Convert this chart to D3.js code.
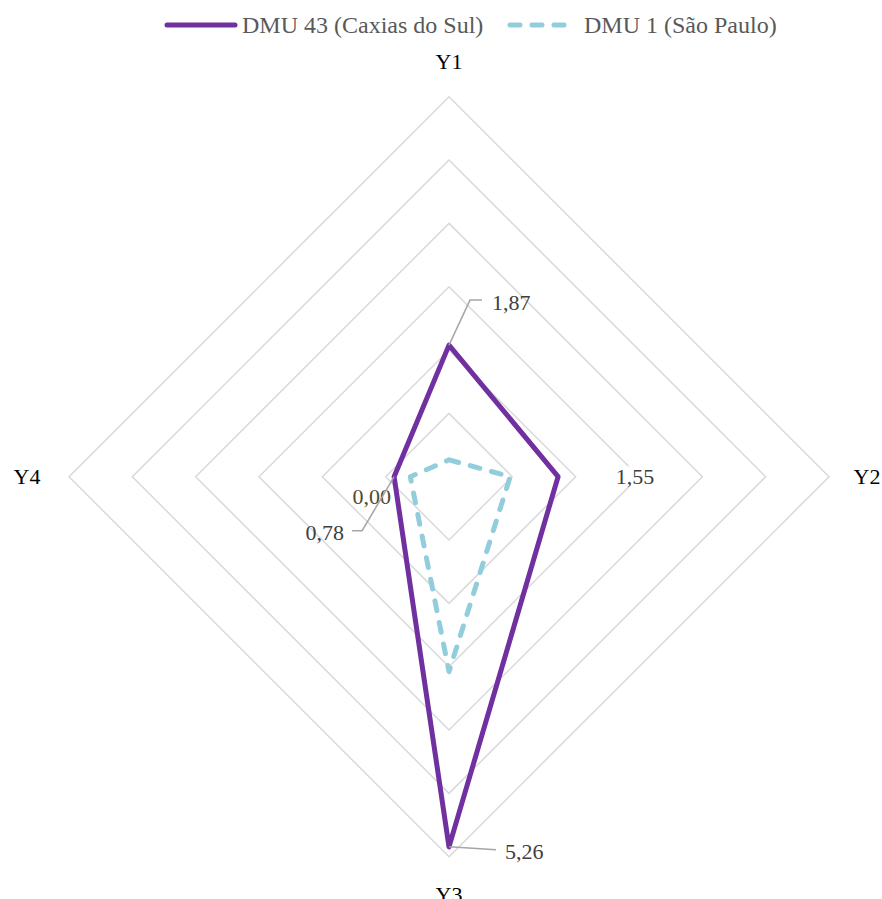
<!DOCTYPE html>
<html><head><meta charset="utf-8">
<script src="https://cdn.jsdelivr.net/npm/d3@7/dist/d3.min.js"></script>
<style>body{margin:0;background:#fff;} svg{display:block;}</style>
</head><body>
<svg id="chart" width="882" height="899"></svg>
<script>
// ---- data ----
const axesNames = ["Y1", "Y2", "Y3", "Y4"];
const seriesNames = ["DMU 43 (Caxias do Sul)", "DMU 1 (São Paulo)"];
const caxiasValues = [1.87, 1.55, 5.26, 0.78];
const saoPauloValues = [0.24, 0.87, 2.77, 0.55];
const ringTicks = [0.9, 1.8, 2.7, 3.6, 4.5, 5.4];
const caxiasLabels = ["1,87", "1,55", "5,26", "0,78"];
const extraLabel = "0,00";

// ---- layout ----
const W = 882, H = 899;
const cx = 449, cy = 476.7, R = 380;
const svg = d3.select("#chart");
const r = d3.scaleLinear().domain([0, d3.max(ringTicks)]).range([0, R]);
const ang = d3.scalePoint().domain(axesNames).range([0, 2 * Math.PI * 3 / 4]);
const pt = (ax, v) => {
  const a = ang(ax);
  return [cx + r(v) * Math.sin(a), cy - r(v) * Math.cos(a)];
};
const radial = d3.lineRadial().angle((d, i) => ang(axesNames[i])).radius(d => r(d)).curve(d3.curveLinearClosed);

const g = svg.append("g").attr("transform", `translate(${cx},${cy})`);

// rings
g.selectAll("path.ring").data(ringTicks).join("path")
  .attr("class", "ring")
  .attr("d", t => radial(axesNames.map(() => t)))
  .attr("fill", "none").attr("stroke", "#d9d9d9").attr("stroke-width", 1.5);

// series
g.append("path").attr("d", radial(saoPauloValues))
  .attr("fill", "none").attr("stroke", "#92cddc").attr("stroke-width", 5)
  .attr("stroke-dasharray", "10,12").attr("stroke-linecap", "round").attr("stroke-linejoin", "round");
g.append("path").attr("d", radial(caxiasValues))
  .attr("fill", "none").attr("stroke", "#7030a0").attr("stroke-width", 5)
  .attr("stroke-linejoin", "round");

// axis labels
const axisLabelPos = {
  Y1: [0, -R - 35], Y2: [R + 38, 0], Y3: [0, R + 38], Y4: [-R - 42, 0]
};
g.selectAll("text.axis").data(axesNames).join("text")
  .attr("class", "axis")
  .attr("x", d => axisLabelPos[d][0]).attr("y", d => axisLabelPos[d][1])
  .attr("dy", "0.35em").attr("text-anchor", "middle")
  .attr("font-family", "'Liberation Serif', 'Times New Roman', serif")
  .attr("font-size", 22).attr("fill", "#000")
  .text(d => d);

// data labels
const lbl = svg.append("g").attr("font-family", "'Liberation Serif', 'Times New Roman', serif")
  .attr("font-size", 22).attr("fill", "#404040");
const leader = (pts) => svg.append("path").attr("d", d3.line()(pts))
  .attr("fill", "none").attr("stroke", "#a6a6a6").attr("stroke-width", 1.5);

// Y1
{
  const [x, y] = pt("Y1", caxiasValues[0]);
  leader([[x, y], [x + 21, y - 45], [x + 33, y - 45]]);
  lbl.append("text").attr("x", x + 43).attr("y", y - 43).attr("dy", "0.35em").text(caxiasLabels[0]);
}
// Y2
{
  const [x, y] = pt("Y2", caxiasValues[1]);
  const t = lbl.append("text").attr("x", x + 77).attr("y", y).attr("dy", "0.35em")
    .attr("text-anchor", "middle").text(caxiasLabels[1]);
  const bb = t.node().getBBox();
  lbl.insert("rect", "text").attr("x", bb.x - 2).attr("y", bb.y + 2).attr("width", bb.width + 4)
    .attr("height", bb.height - 4).attr("fill", "#fff");
}
// Y3
{
  const [x, y] = pt("Y3", caxiasValues[2]);
  leader([[x, y], [x + 47, y + 3]]);
  lbl.append("text").attr("x", x + 56).attr("y", y + 4).attr("dy", "0.35em").text(caxiasLabels[2]);
}
// Y4
{
  const [x, y] = pt("Y4", caxiasValues[3]);
  leader([[x, y], [x - 32, y + 54], [x - 42, y + 54]]);
  lbl.append("text").attr("x", x - 50).attr("y", y + 56).attr("dy", "0.35em")
    .attr("text-anchor", "end").text(caxiasLabels[3]);
  lbl.append("text").attr("x", x - 3).attr("y", y + 20).attr("dy", "0.35em")
    .attr("text-anchor", "end").attr("fill", "#4f4a2c").text(extraLabel);
}

// legend
const leg = svg.append("g").attr("font-family", "'Liberation Serif', 'Times New Roman', serif")
  .attr("font-size", 24).attr("fill", "#595959");
const ly = 25;
leg.append("line").attr("x1", 167).attr("x2", 235).attr("y1", ly).attr("y2", ly)
  .attr("stroke", "#7030a0").attr("stroke-width", 5).attr("stroke-linecap", "round");
leg.append("text").attr("x", 242).attr("y", ly).attr("dy", "0.35em").text(seriesNames[0]);
leg.append("line").attr("x1", 510).attr("x2", 575).attr("y1", ly).attr("y2", ly)
  .attr("stroke", "#92cddc").attr("stroke-width", 5).attr("stroke-linecap", "round")
  .attr("stroke-dasharray", "10,12");
leg.append("text").attr("x", 584).attr("y", ly).attr("dy", "0.35em").text(seriesNames[1]);
</script>
</body></html>
